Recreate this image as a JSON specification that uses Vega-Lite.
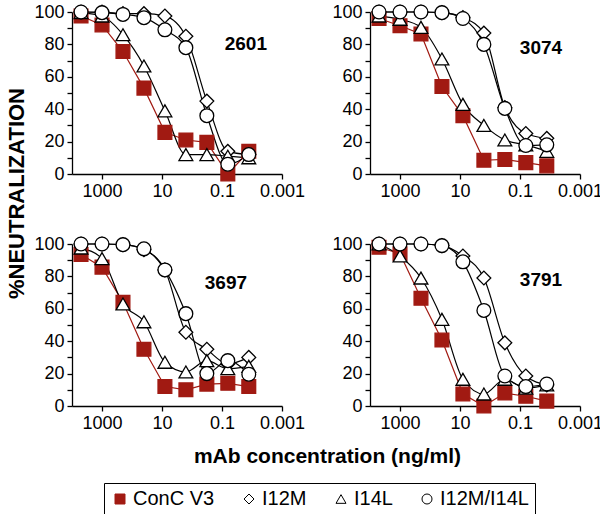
{
  "$schema": "https://vega.github.io/schema/vega-lite/v6.json",
  "padding": {"left": 5, "top": 2, "right": 0, "bottom": 0},
  "background": "white",
  "config": {
    "view": {"stroke": null},
    "font": "Liberation Sans",
    "axis": {"grid": false, "domainColor": "black", "domainWidth": 1.3, "tickColor": "black", "tickWidth": 1.3, "tickSize": 5, "labelFont": "Liberation Sans", "labelFontSize": 18, "labelColor": "black", "labelPadding": 3, "labelFlush": false, "labelOverlap": false, "titleFont": "Liberation Sans", "titleFontSize": 21, "titleFontWeight": "bold", "titleColor": "black"},
    "text": {"font": "Liberation Sans"}
  },
  "datasets": {
    "neut": [
      {"panel":"2601","series":"ConC V3","conc":5000,"neut":97.5},
      {"panel":"2601","series":"ConC V3","conc":1000,"neut":92},
      {"panel":"2601","series":"ConC V3","conc":200,"neut":75.6},
      {"panel":"2601","series":"ConC V3","conc":40,"neut":53},
      {"panel":"2601","series":"ConC V3","conc":8,"neut":25.7},
      {"panel":"2601","series":"ConC V3","conc":1.6,"neut":21},
      {"panel":"2601","series":"ConC V3","conc":0.32,"neut":19.5},
      {"panel":"2601","series":"ConC V3","conc":0.064,"neut":0},
      {"panel":"2601","series":"ConC V3","conc":0.0128,"neut":14},
      {"panel":"2601","series":"I12M","conc":5000,"neut":100},
      {"panel":"2601","series":"I12M","conc":1000,"neut":100},
      {"panel":"2601","series":"I12M","conc":200,"neut":99},
      {"panel":"2601","series":"I12M","conc":40,"neut":99},
      {"panel":"2601","series":"I12M","conc":8,"neut":97.5},
      {"panel":"2601","series":"I12M","conc":1.6,"neut":85},
      {"panel":"2601","series":"I12M","conc":0.32,"neut":45},
      {"panel":"2601","series":"I12M","conc":0.064,"neut":14},
      {"panel":"2601","series":"I12M","conc":0.0128,"neut":12},
      {"panel":"2601","series":"I14L","conc":5000,"neut":99.6},
      {"panel":"2601","series":"I14L","conc":1000,"neut":97.5},
      {"panel":"2601","series":"I14L","conc":200,"neut":86},
      {"panel":"2601","series":"I14L","conc":40,"neut":66.7},
      {"panel":"2601","series":"I14L","conc":8,"neut":39},
      {"panel":"2601","series":"I14L","conc":1.6,"neut":12},
      {"panel":"2601","series":"I14L","conc":0.32,"neut":12},
      {"panel":"2601","series":"I14L","conc":0.064,"neut":11},
      {"panel":"2601","series":"I14L","conc":0.0128,"neut":10},
      {"panel":"2601","series":"I12M/I14L","conc":5000,"neut":100},
      {"panel":"2601","series":"I12M/I14L","conc":1000,"neut":99.6},
      {"panel":"2601","series":"I12M/I14L","conc":200,"neut":98.5},
      {"panel":"2601","series":"I12M/I14L","conc":40,"neut":96.5},
      {"panel":"2601","series":"I12M/I14L","conc":8,"neut":89},
      {"panel":"2601","series":"I12M/I14L","conc":1.6,"neut":78},
      {"panel":"2601","series":"I12M/I14L","conc":0.32,"neut":36},
      {"panel":"2601","series":"I12M/I14L","conc":0.064,"neut":6},
      {"panel":"2601","series":"I12M/I14L","conc":0.0128,"neut":12},

      {"panel":"3074","series":"ConC V3","conc":5000,"neut":96},
      {"panel":"3074","series":"ConC V3","conc":1000,"neut":91.5},
      {"panel":"3074","series":"ConC V3","conc":200,"neut":86.4},
      {"panel":"3074","series":"ConC V3","conc":40,"neut":54},
      {"panel":"3074","series":"ConC V3","conc":8,"neut":36},
      {"panel":"3074","series":"ConC V3","conc":1.6,"neut":8.5},
      {"panel":"3074","series":"ConC V3","conc":0.32,"neut":9},
      {"panel":"3074","series":"ConC V3","conc":0.064,"neut":7},
      {"panel":"3074","series":"ConC V3","conc":0.0128,"neut":5},
      {"panel":"3074","series":"I12M","conc":5000,"neut":100},
      {"panel":"3074","series":"I12M","conc":1000,"neut":100},
      {"panel":"3074","series":"I12M","conc":200,"neut":100},
      {"panel":"3074","series":"I12M","conc":40,"neut":99.6},
      {"panel":"3074","series":"I12M","conc":8,"neut":96.6},
      {"panel":"3074","series":"I12M","conc":1.6,"neut":87},
      {"panel":"3074","series":"I12M","conc":0.32,"neut":41},
      {"panel":"3074","series":"I12M","conc":0.064,"neut":25},
      {"panel":"3074","series":"I12M","conc":0.0128,"neut":22},
      {"panel":"3074","series":"I14L","conc":5000,"neut":97.5},
      {"panel":"3074","series":"I14L","conc":1000,"neut":95.5},
      {"panel":"3074","series":"I14L","conc":200,"neut":90.5},
      {"panel":"3074","series":"I14L","conc":40,"neut":71},
      {"panel":"3074","series":"I14L","conc":8,"neut":43},
      {"panel":"3074","series":"I14L","conc":1.6,"neut":30},
      {"panel":"3074","series":"I14L","conc":0.32,"neut":21},
      {"panel":"3074","series":"I14L","conc":0.064,"neut":18},
      {"panel":"3074","series":"I14L","conc":0.0128,"neut":14},
      {"panel":"3074","series":"I12M/I14L","conc":5000,"neut":100},
      {"panel":"3074","series":"I12M/I14L","conc":1000,"neut":100},
      {"panel":"3074","series":"I12M/I14L","conc":200,"neut":100},
      {"panel":"3074","series":"I12M/I14L","conc":40,"neut":99.6},
      {"panel":"3074","series":"I12M/I14L","conc":8,"neut":96},
      {"panel":"3074","series":"I12M/I14L","conc":1.6,"neut":80},
      {"panel":"3074","series":"I12M/I14L","conc":0.32,"neut":40.5},
      {"panel":"3074","series":"I12M/I14L","conc":0.064,"neut":17.6},
      {"panel":"3074","series":"I12M/I14L","conc":0.0128,"neut":18},

      {"panel":"3697","series":"ConC V3","conc":5000,"neut":93.5},
      {"panel":"3697","series":"ConC V3","conc":1000,"neut":85.7},
      {"panel":"3697","series":"ConC V3","conc":200,"neut":64},
      {"panel":"3697","series":"ConC V3","conc":40,"neut":35},
      {"panel":"3697","series":"ConC V3","conc":8,"neut":12},
      {"panel":"3697","series":"ConC V3","conc":1.6,"neut":10},
      {"panel":"3697","series":"ConC V3","conc":0.32,"neut":13.5},
      {"panel":"3697","series":"ConC V3","conc":0.064,"neut":14},
      {"panel":"3697","series":"ConC V3","conc":0.0128,"neut":12},
      {"panel":"3697","series":"I12M","conc":5000,"neut":100},
      {"panel":"3697","series":"I12M","conc":1000,"neut":100},
      {"panel":"3697","series":"I12M","conc":200,"neut":99.6},
      {"panel":"3697","series":"I12M","conc":40,"neut":96.5},
      {"panel":"3697","series":"I12M","conc":8,"neut":84},
      {"panel":"3697","series":"I12M","conc":1.6,"neut":45.5},
      {"panel":"3697","series":"I12M","conc":0.32,"neut":35},
      {"panel":"3697","series":"I12M","conc":0.064,"neut":26},
      {"panel":"3697","series":"I12M","conc":0.0128,"neut":30},
      {"panel":"3697","series":"I14L","conc":5000,"neut":97.5},
      {"panel":"3697","series":"I14L","conc":1000,"neut":91},
      {"panel":"3697","series":"I14L","conc":200,"neut":63},
      {"panel":"3697","series":"I14L","conc":40,"neut":52},
      {"panel":"3697","series":"I14L","conc":8,"neut":27},
      {"panel":"3697","series":"I14L","conc":1.6,"neut":21},
      {"panel":"3697","series":"I14L","conc":0.32,"neut":28},
      {"panel":"3697","series":"I14L","conc":0.064,"neut":23},
      {"panel":"3697","series":"I14L","conc":0.0128,"neut":24.5},
      {"panel":"3697","series":"I12M/I14L","conc":5000,"neut":100},
      {"panel":"3697","series":"I12M/I14L","conc":1000,"neut":100},
      {"panel":"3697","series":"I12M/I14L","conc":200,"neut":99.6},
      {"panel":"3697","series":"I12M/I14L","conc":40,"neut":97},
      {"panel":"3697","series":"I12M/I14L","conc":8,"neut":84},
      {"panel":"3697","series":"I12M/I14L","conc":1.6,"neut":57},
      {"panel":"3697","series":"I12M/I14L","conc":0.32,"neut":20},
      {"panel":"3697","series":"I12M/I14L","conc":0.064,"neut":28},
      {"panel":"3697","series":"I12M/I14L","conc":0.0128,"neut":19.6},

      {"panel":"3791","series":"ConC V3","conc":5000,"neut":98},
      {"panel":"3791","series":"ConC V3","conc":1000,"neut":94},
      {"panel":"3791","series":"ConC V3","conc":200,"neut":66.5},
      {"panel":"3791","series":"ConC V3","conc":40,"neut":40.7},
      {"panel":"3791","series":"ConC V3","conc":8,"neut":7.4},
      {"panel":"3791","series":"ConC V3","conc":1.6,"neut":0},
      {"panel":"3791","series":"ConC V3","conc":0.32,"neut":8},
      {"panel":"3791","series":"ConC V3","conc":0.064,"neut":6},
      {"panel":"3791","series":"ConC V3","conc":0.0128,"neut":3},
      {"panel":"3791","series":"I12M","conc":5000,"neut":100},
      {"panel":"3791","series":"I12M","conc":1000,"neut":100},
      {"panel":"3791","series":"I12M","conc":200,"neut":100},
      {"panel":"3791","series":"I12M","conc":40,"neut":99},
      {"panel":"3791","series":"I12M","conc":8,"neut":92.6},
      {"panel":"3791","series":"I12M","conc":1.6,"neut":79},
      {"panel":"3791","series":"I12M","conc":0.32,"neut":39},
      {"panel":"3791","series":"I12M","conc":0.064,"neut":18.5},
      {"panel":"3791","series":"I12M","conc":0.0128,"neut":13},
      {"panel":"3791","series":"I14L","conc":5000,"neut":100},
      {"panel":"3791","series":"I14L","conc":1000,"neut":92.6},
      {"panel":"3791","series":"I14L","conc":200,"neut":79},
      {"panel":"3791","series":"I14L","conc":40,"neut":53.5},
      {"panel":"3791","series":"I14L","conc":8,"neut":16.5},
      {"panel":"3791","series":"I14L","conc":1.6,"neut":7.4},
      {"panel":"3791","series":"I14L","conc":0.32,"neut":16.5},
      {"panel":"3791","series":"I14L","conc":0.064,"neut":11},
      {"panel":"3791","series":"I14L","conc":0.0128,"neut":13},
      {"panel":"3791","series":"I12M/I14L","conc":5000,"neut":100},
      {"panel":"3791","series":"I12M/I14L","conc":1000,"neut":100},
      {"panel":"3791","series":"I12M/I14L","conc":200,"neut":100},
      {"panel":"3791","series":"I12M/I14L","conc":40,"neut":99},
      {"panel":"3791","series":"I12M/I14L","conc":8,"neut":89},
      {"panel":"3791","series":"I12M/I14L","conc":1.6,"neut":59},
      {"panel":"3791","series":"I12M/I14L","conc":0.32,"neut":18.5},
      {"panel":"3791","series":"I12M/I14L","conc":0.064,"neut":12},
      {"panel":"3791","series":"I12M/I14L","conc":0.0128,"neut":13.6}
    ]
  },
  "columns": 2,
  "spacing": {"row": 70, "column": 88},
  "bounds": "flush",
  "concat": [
    {
      "width": 210, "height": 162,
      "data": {"name": "neut"},
      "transform": [{"filter": "datum.panel === '2601'"}],
      "layer": [
        {"transform": [{"filter": "datum.series === 'ConC V3'"}], "mark": {"type": "line", "color": "#a11a12", "strokeWidth": 1.2},
         "encoding": {"x": {"field": "conc", "type": "quantitative", "scale": {"type": "log", "domain": [0.001, 10000], "reverse": true}, "axis": {"values": [1000, 10, 0.1, 0.001], "tickCount": 10, "format": "~g", "title": null}}, "y": {"field": "neut", "type": "quantitative", "scale": {"domain": [0, 100], "nice": false}, "axis": {"values": [0,10,20,30,40,50,60,70,80,90,100], "tickCount": 20, "labelExpr": "datum.value % 20 === 0 ? datum.label : ''", "title": "%NEUTRALIZATION", "titleFontSize": 22, "titleY": 181, "titlePadding": 5}}}},
        {"transform": [{"filter": "datum.series !== 'ConC V3'"}], "mark": {"type": "line", "color": "black", "strokeWidth": 1.2, "interpolate": "monotone"},
         "encoding": {"x": {"field": "conc", "type": "quantitative"}, "y": {"field": "neut", "type": "quantitative"}, "detail": {"field": "series"}}},
        {"mark": {"type": "point", "opacity": 1, "strokeWidth": 1.3, "size": 190},
         "encoding": {"x": {"field": "conc", "type": "quantitative"}, "y": {"field": "neut", "type": "quantitative"},
           "shape": {"field": "series", "scale": {"domain": ["ConC V3", "I12M", "I14L", "I12M/I14L"], "range": ["square", "diamond", "triangle-up", "circle"]}, "legend": {"title": null, "orient": "none", "legendX": 32, "legendY": 471, "direction": "horizontal", "strokeColor": "black", "padding": 6, "labelFontSize": 20, "labelFont": "Liberation Sans", "labelColor": "black", "symbolSize": 100, "symbolStrokeWidth": 1, "columnPadding": 24, "labelOffset": 3}},
           "fill": {"field": "series", "scale": {"domain": ["ConC V3", "I12M", "I14L", "I12M/I14L"], "range": ["#a11a12", "white", "white", "white"]}, "legend": {"title": null, "orient": "none", "legendX": 32, "legendY": 471, "direction": "horizontal", "strokeColor": "black", "padding": 6, "labelFontSize": 20, "labelFont": "Liberation Sans", "labelColor": "black", "symbolSize": 100, "symbolStrokeWidth": 1, "columnPadding": 24, "labelOffset": 3}},
           "stroke": {"field": "series", "scale": {"domain": ["ConC V3", "I12M", "I14L", "I12M/I14L"], "range": ["#a11a12", "black", "black", "black"]}, "legend": {"title": null, "orient": "none", "legendX": 32, "legendY": 471, "direction": "horizontal", "strokeColor": "black", "padding": 6, "labelFontSize": 20, "labelFont": "Liberation Sans", "labelColor": "black", "symbolSize": 100, "symbolStrokeWidth": 1, "columnPadding": 24, "labelOffset": 3}}}},
        {"data": {"values": [{"panel": "2601", "label": "2601"}]}, "mark": {"type": "text", "fontWeight": "bold", "fontSize": 19, "color": "black"},
         "encoding": {"x": {"datum": 0.016, "type": "quantitative"}, "y": {"datum": 80, "type": "quantitative"}, "text": {"field": "label"}}}
      ]
    },
    {
      "width": 210, "height": 162,
      "data": {"name": "neut"},
      "transform": [{"filter": "datum.panel === '3074'"}],
      "layer": [
        {"transform": [{"filter": "datum.series === 'ConC V3'"}], "mark": {"type": "line", "color": "#a11a12", "strokeWidth": 1.2},
         "encoding": {"x": {"field": "conc", "type": "quantitative", "scale": {"type": "log", "domain": [0.001, 10000], "reverse": true}, "axis": {"values": [1000, 10, 0.1, 0.001], "tickCount": 10, "format": "~g", "title": null}}, "y": {"field": "neut", "type": "quantitative", "scale": {"domain": [0, 100], "nice": false}, "axis": {"values": [0,10,20,30,40,50,60,70,80,90,100], "tickCount": 20, "labelExpr": "datum.value % 20 === 0 ? datum.label : ''", "title": null}}}},
        {"transform": [{"filter": "datum.series !== 'ConC V3'"}], "mark": {"type": "line", "color": "black", "strokeWidth": 1.2, "interpolate": "monotone"},
         "encoding": {"x": {"field": "conc", "type": "quantitative"}, "y": {"field": "neut", "type": "quantitative"}, "detail": {"field": "series"}}},
        {"mark": {"type": "point", "opacity": 1, "strokeWidth": 1.3, "size": 190},
         "encoding": {"x": {"field": "conc", "type": "quantitative"}, "y": {"field": "neut", "type": "quantitative"},
           "shape": {"field": "series", "scale": {"domain": ["ConC V3", "I12M", "I14L", "I12M/I14L"], "range": ["square", "diamond", "triangle-up", "circle"]}, "legend": {"title": null, "orient": "none", "legendX": 32, "legendY": 471, "direction": "horizontal", "strokeColor": "black", "padding": 6, "labelFontSize": 20, "labelFont": "Liberation Sans", "labelColor": "black", "symbolSize": 100, "symbolStrokeWidth": 1, "columnPadding": 24, "labelOffset": 3}},
           "fill": {"field": "series", "scale": {"domain": ["ConC V3", "I12M", "I14L", "I12M/I14L"], "range": ["#a11a12", "white", "white", "white"]}, "legend": {"title": null, "orient": "none", "legendX": 32, "legendY": 471, "direction": "horizontal", "strokeColor": "black", "padding": 6, "labelFontSize": 20, "labelFont": "Liberation Sans", "labelColor": "black", "symbolSize": 100, "symbolStrokeWidth": 1, "columnPadding": 24, "labelOffset": 3}},
           "stroke": {"field": "series", "scale": {"domain": ["ConC V3", "I12M", "I14L", "I12M/I14L"], "range": ["#a11a12", "black", "black", "black"]}, "legend": {"title": null, "orient": "none", "legendX": 32, "legendY": 471, "direction": "horizontal", "strokeColor": "black", "padding": 6, "labelFontSize": 20, "labelFont": "Liberation Sans", "labelColor": "black", "symbolSize": 100, "symbolStrokeWidth": 1, "columnPadding": 24, "labelOffset": 3}}}},
        {"data": {"values": [{"panel": "3074", "label": "3074"}]}, "mark": {"type": "text", "fontWeight": "bold", "fontSize": 19, "color": "black"},
         "encoding": {"x": {"datum": 0.02, "type": "quantitative"}, "y": {"datum": 78, "type": "quantitative"}, "text": {"field": "label"}}}
      ]
    },
    {
      "width": 210, "height": 162,
      "data": {"name": "neut"},
      "transform": [{"filter": "datum.panel === '3697'"}],
      "layer": [
        {"transform": [{"filter": "datum.series === 'ConC V3'"}], "mark": {"type": "line", "color": "#a11a12", "strokeWidth": 1.2},
         "encoding": {"x": {"field": "conc", "type": "quantitative", "scale": {"type": "log", "domain": [0.001, 10000], "reverse": true}, "axis": {"values": [1000, 10, 0.1, 0.001], "tickCount": 10, "format": "~g", "title": "mAb concentration (ng/ml)", "titleX": 255, "titlePadding": 13}}, "y": {"field": "neut", "type": "quantitative", "scale": {"domain": [0, 100], "nice": false}, "axis": {"values": [0,10,20,30,40,50,60,70,80,90,100], "tickCount": 20, "labelExpr": "datum.value % 20 === 0 ? datum.label : ''", "title": null}}}},
        {"transform": [{"filter": "datum.series !== 'ConC V3'"}], "mark": {"type": "line", "color": "black", "strokeWidth": 1.2, "interpolate": "monotone"},
         "encoding": {"x": {"field": "conc", "type": "quantitative"}, "y": {"field": "neut", "type": "quantitative"}, "detail": {"field": "series"}}},
        {"mark": {"type": "point", "opacity": 1, "strokeWidth": 1.3, "size": 190},
         "encoding": {"x": {"field": "conc", "type": "quantitative"}, "y": {"field": "neut", "type": "quantitative"},
           "shape": {"field": "series", "scale": {"domain": ["ConC V3", "I12M", "I14L", "I12M/I14L"], "range": ["square", "diamond", "triangle-up", "circle"]}, "legend": {"title": null, "orient": "none", "legendX": 32, "legendY": 471, "direction": "horizontal", "strokeColor": "black", "padding": 6, "labelFontSize": 20, "labelFont": "Liberation Sans", "labelColor": "black", "symbolSize": 100, "symbolStrokeWidth": 1, "columnPadding": 24, "labelOffset": 3}},
           "fill": {"field": "series", "scale": {"domain": ["ConC V3", "I12M", "I14L", "I12M/I14L"], "range": ["#a11a12", "white", "white", "white"]}, "legend": {"title": null, "orient": "none", "legendX": 32, "legendY": 471, "direction": "horizontal", "strokeColor": "black", "padding": 6, "labelFontSize": 20, "labelFont": "Liberation Sans", "labelColor": "black", "symbolSize": 100, "symbolStrokeWidth": 1, "columnPadding": 24, "labelOffset": 3}},
           "stroke": {"field": "series", "scale": {"domain": ["ConC V3", "I12M", "I14L", "I12M/I14L"], "range": ["#a11a12", "black", "black", "black"]}, "legend": {"title": null, "orient": "none", "legendX": 32, "legendY": 471, "direction": "horizontal", "strokeColor": "black", "padding": 6, "labelFontSize": 20, "labelFont": "Liberation Sans", "labelColor": "black", "symbolSize": 100, "symbolStrokeWidth": 1, "columnPadding": 24, "labelOffset": 3}}}},
        {"data": {"values": [{"panel": "3697", "label": "3697"}]}, "mark": {"type": "text", "fontWeight": "bold", "fontSize": 19, "color": "black"},
         "encoding": {"x": {"datum": 0.074, "type": "quantitative"}, "y": {"datum": 76, "type": "quantitative"}, "text": {"field": "label"}}}
      ]
    },
    {
      "width": 210, "height": 162,
      "data": {"name": "neut"},
      "transform": [{"filter": "datum.panel === '3791'"}],
      "layer": [
        {"transform": [{"filter": "datum.series === 'ConC V3'"}], "mark": {"type": "line", "color": "#a11a12", "strokeWidth": 1.2},
         "encoding": {"x": {"field": "conc", "type": "quantitative", "scale": {"type": "log", "domain": [0.001, 10000], "reverse": true}, "axis": {"values": [1000, 10, 0.1, 0.001], "tickCount": 10, "format": "~g", "title": null}}, "y": {"field": "neut", "type": "quantitative", "scale": {"domain": [0, 100], "nice": false}, "axis": {"values": [0,10,20,30,40,50,60,70,80,90,100], "tickCount": 20, "labelExpr": "datum.value % 20 === 0 ? datum.label : ''", "title": null}}}},
        {"transform": [{"filter": "datum.series !== 'ConC V3'"}], "mark": {"type": "line", "color": "black", "strokeWidth": 1.2, "interpolate": "monotone"},
         "encoding": {"x": {"field": "conc", "type": "quantitative"}, "y": {"field": "neut", "type": "quantitative"}, "detail": {"field": "series"}}},
        {"mark": {"type": "point", "opacity": 1, "strokeWidth": 1.3, "size": 190},
         "encoding": {"x": {"field": "conc", "type": "quantitative"}, "y": {"field": "neut", "type": "quantitative"},
           "shape": {"field": "series", "scale": {"domain": ["ConC V3", "I12M", "I14L", "I12M/I14L"], "range": ["square", "diamond", "triangle-up", "circle"]}, "legend": {"title": null, "orient": "none", "legendX": 32, "legendY": 471, "direction": "horizontal", "strokeColor": "black", "padding": 6, "labelFontSize": 20, "labelFont": "Liberation Sans", "labelColor": "black", "symbolSize": 100, "symbolStrokeWidth": 1, "columnPadding": 24, "labelOffset": 3}},
           "fill": {"field": "series", "scale": {"domain": ["ConC V3", "I12M", "I14L", "I12M/I14L"], "range": ["#a11a12", "white", "white", "white"]}, "legend": {"title": null, "orient": "none", "legendX": 32, "legendY": 471, "direction": "horizontal", "strokeColor": "black", "padding": 6, "labelFontSize": 20, "labelFont": "Liberation Sans", "labelColor": "black", "symbolSize": 100, "symbolStrokeWidth": 1, "columnPadding": 24, "labelOffset": 3}},
           "stroke": {"field": "series", "scale": {"domain": ["ConC V3", "I12M", "I14L", "I12M/I14L"], "range": ["#a11a12", "black", "black", "black"]}, "legend": {"title": null, "orient": "none", "legendX": 32, "legendY": 471, "direction": "horizontal", "strokeColor": "black", "padding": 6, "labelFontSize": 20, "labelFont": "Liberation Sans", "labelColor": "black", "symbolSize": 100, "symbolStrokeWidth": 1, "columnPadding": 24, "labelOffset": 3}}}},
        {"data": {"values": [{"panel": "3791", "label": "3791"}]}, "mark": {"type": "text", "fontWeight": "bold", "fontSize": 19, "color": "black"},
         "encoding": {"x": {"datum": 0.02, "type": "quantitative"}, "y": {"datum": 78, "type": "quantitative"}, "text": {"field": "label"}}}
      ]
    }
  ]
}
